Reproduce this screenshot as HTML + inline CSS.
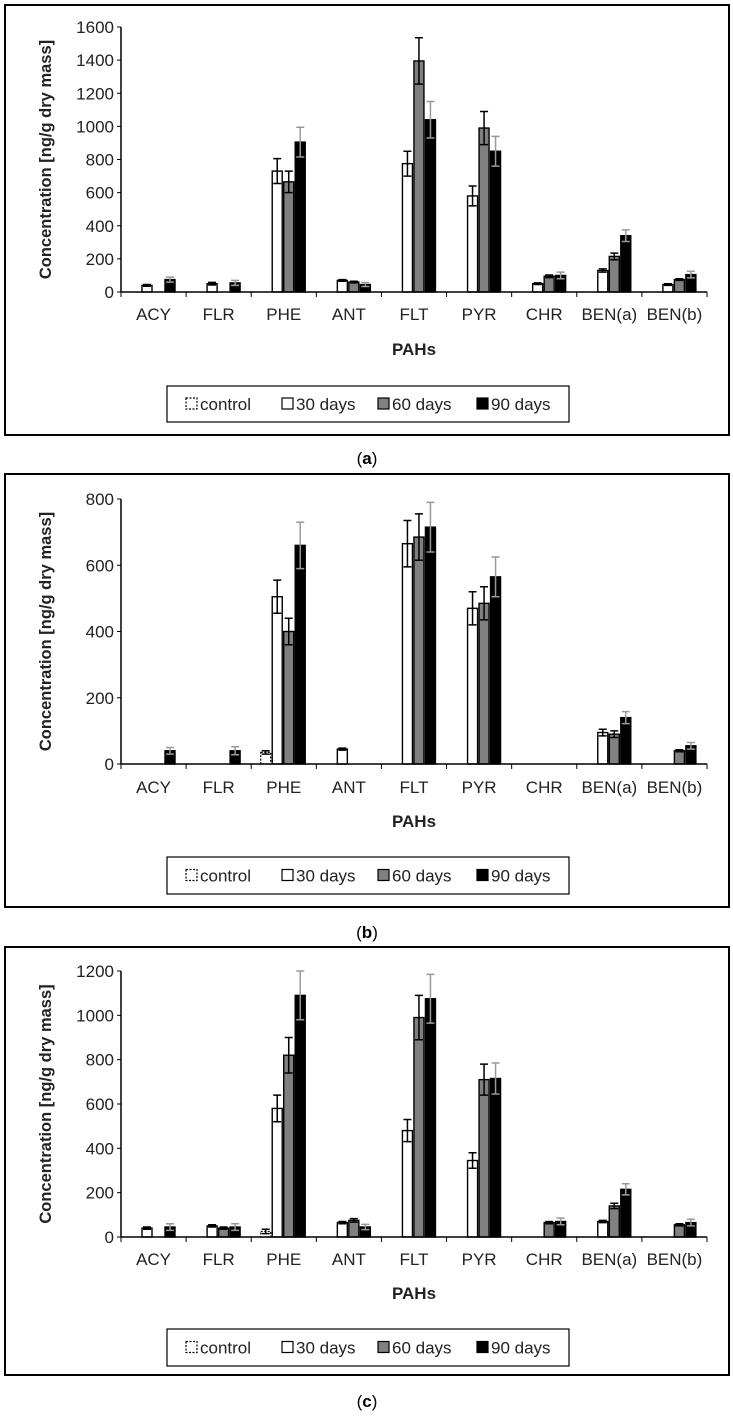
<!DOCTYPE html>
<html><head><meta charset="utf-8"><style>
html,body{margin:0;padding:0;background:#fff}
svg{display:block}
text{font-family:"Liberation Sans",sans-serif}
</style></head>
<body>
<svg id="fig" width="733" height="1418" viewBox="0 0 733 1418" xmlns="http://www.w3.org/2000/svg"></svg>
<script>
const categories = ["ACY","FLR","PHE","ANT","FLT","PYR","CHR","BEN(a)","BEN(b)"];
const seriesNames = ["control","30 days","60 days","90 days"];
// panel a
const aControl = [0,0,0,0,0,0,0,0,0];
const a30 = [40,50,730,70,775,580,50,130,45];
const a60 = [0,0,665,60,1395,990,95,215,75];
const a90 = [75,55,905,45,1040,850,100,340,105];
const aErr30 = [5,8,75,5,75,60,5,10,5];
const aErr60 = [0,0,65,5,140,100,8,20,5];
const aErr90 = [15,15,90,12,110,90,20,35,20];
const aTicks = [0,200,400,600,800,1000,1200,1400,1600];
// panel b
const bControl = [0,0,35,0,0,0,0,0,0];
const b30 = [0,0,505,45,665,470,0,95,0];
const b60 = [0,0,400,0,685,485,0,90,40];
const b90 = [40,40,660,0,715,565,0,140,55];
const bErrC = [0,0,5,0,0,0,0,0,0];
const bErr30 = [0,0,50,3,70,50,0,10,0];
const bErr60 = [0,0,40,0,70,50,0,10,3];
const bErr90 = [10,12,70,0,75,60,0,18,10];
const bTicks = [0,200,400,600,800];
// panel c
const cControl = [0,0,25,0,0,0,0,0,0];
const c30 = [40,50,580,65,480,345,0,70,0];
const c60 = [0,40,820,75,990,710,65,140,55];
const c90 = [45,45,1090,45,1075,715,70,215,65];
const cErrC = [0,0,10,0,0,0,0,0,0];
const cErr30 = [5,5,60,5,50,35,0,5,0];
const cErr60 = [0,5,80,8,100,70,5,12,5];
const cErr90 = [15,15,110,12,110,70,15,25,15];
const cTicks = [0,200,400,600,800,1000,1200];

const NS="http://www.w3.org/2000/svg";
const svg=document.getElementById('fig');
function mk(tag,attrs,parent,txt){const e=document.createElementNS(NS,tag);for(const k in attrs)e.setAttribute(k,attrs[k]);if(txt!==undefined)e.textContent=txt;(parent||svg).appendChild(e);return e;}

const panels=[
 {id:'a',box:[5,5,724,430],y0:292,yTop:27,max:1600,ticks:aTicks,vals:[aControl,a30,a60,a90],errs:[aControl.map(()=>0),aErr30,aErr60,aErr90],labY:320,titleY:355,leg:[167,386,402,36],cap:458,cap2:'a'},
 {id:'b',box:[5,474,724,433],y0:764,yTop:499,max:800,ticks:bTicks,vals:[bControl,b30,b60,b90],errs:[bErrC,bErr30,bErr60,bErr90],labY:793,titleY:827,leg:[167,857,402,37],cap:932,cap2:'b'},
 {id:'c',box:[5,947,724,428],y0:1237,yTop:971,max:1200,ticks:cTicks,vals:[cControl,c30,c60,c90],errs:[cErrC,cErr30,cErr60,cErr90],labY:1265,titleY:1299,leg:[167,1329,402,37],cap:1401,cap2:'c'}
];
const x0=121,x1=707,cw=(x1-x0)/categories.length;
const fills=['#fff','#fff','#808080','#000'];

panels.forEach(p=>{
 const g=mk('g',{});
 
 
 const [bx,by,bw,bh]=p.box;
 const frame=mk('rect',{x:bx,y:by,width:bw,height:bh,fill:'none',stroke:'#000','stroke-width':2},g);
 
 
 const yS=v=>p.y0-(v/p.max)*(p.y0-p.yTop);
 const ya=mk('line',{x1:x0,y1:p.yTop,x2:x0,y2:p.y0,stroke:'#000','stroke-width':1.5},g);
 
 
 p.ticks.forEach(t=>{
  mk('line',{x1:x0-4,y1:yS(t),x2:x0,y2:yS(t),stroke:'#000','stroke-width':1},g);
  const tl=mk('text',{x:x0-7,y:yS(t)+6,'text-anchor':'end','font-size':17,fill:'#222'},g,String(t));
  
  
 });
 const yt=mk('text',{x:0,y:0,'text-anchor':'middle','font-size':16.5,'font-weight':'bold',fill:'#222',transform:`translate(51,${(p.y0+p.yTop)/2}) rotate(-90)`},g,'Concentration  [ng/g dry mass]');
 
 
 categories.forEach((c,i)=>{
  const cs=x0+i*cw;
  for(let s=0;s<4;s++){
   const v=p.vals[s][i]; if(!v) continue;
   const bxp=cs+9.5+s*11.5, yv=yS(v);
   const r=mk('rect',{x:bxp,y:yv,width:10,height:p.y0-yv,fill:fills[s],stroke:'#000','stroke-width':s===0?1.2:1.4,'stroke-dasharray':s===0?'2,1.5':'none'},g);
   
   
   const e=p.errs[s][i];
   if(e){
    const col=s===3?'#999':'#000', cx=bxp+5;
    const eb=mk('path',{d:`M${cx},${yS(v+e)}V${yS(Math.max(0,v-e))}M${cx-4},${yS(v+e)}H${cx+4}M${cx-4},${yS(Math.max(0,v-e))}H${cx+4}`,stroke:col,'stroke-width':1.5,fill:'none'},g);
    
    
   }
  }
  const cl=mk('text',{x:cs+cw/2,y:p.labY,'text-anchor':'middle','font-size':17,fill:'#222'},g,c);
  
  
 });
 const xa=mk('line',{x1:x0,y1:p.y0,x2:x1,y2:p.y0,stroke:'#000','stroke-width':1.5},g);
 
 
 for(let i=0;i<=categories.length;i++) mk('line',{x1:x0+i*cw,y1:p.y0,x2:x0+i*cw,y2:p.y0+5,stroke:'#000','stroke-width':1},g);
 const xt=mk('text',{x:414,y:p.titleY,'text-anchor':'middle','font-size':17,'font-weight':'bold',fill:'#222'},g,'PAHs');
 
 
 const [lx,ly,lw,lh]=p.leg;
 const lg=mk('g',{},g);
 
 
 mk('rect',{x:lx,y:ly,width:lw,height:lh,fill:'#fff',stroke:'#000','stroke-width':1.2},lg);
 const lxs=[186,282,378,477];
 seriesNames.forEach((n,s)=>{
  const cy=ly+lh/2;
  const sq=mk('rect',{x:lxs[s],y:cy-6,width:11,height:11,fill:fills[s],stroke:'#000','stroke-width':1.2,'stroke-dasharray':s===0?'2,1.5':'none'},lg);
  
  
  const t=mk('text',{x:lxs[s]+14,y:cy+6,'font-size':17,fill:'#222'},lg,n);
  
  
 });
 const cap=mk('text',{x:367,y:p.cap+6,'text-anchor':'middle','font-size':17,fill:'#000','font-family':'Liberation Serif'},g,'');
 
 
 mk('tspan',{},cap,'(');
 mk('tspan',{'font-weight':'bold'},cap,p.cap2);
 mk('tspan',{},cap,')');
});
</script>
</body></html>
